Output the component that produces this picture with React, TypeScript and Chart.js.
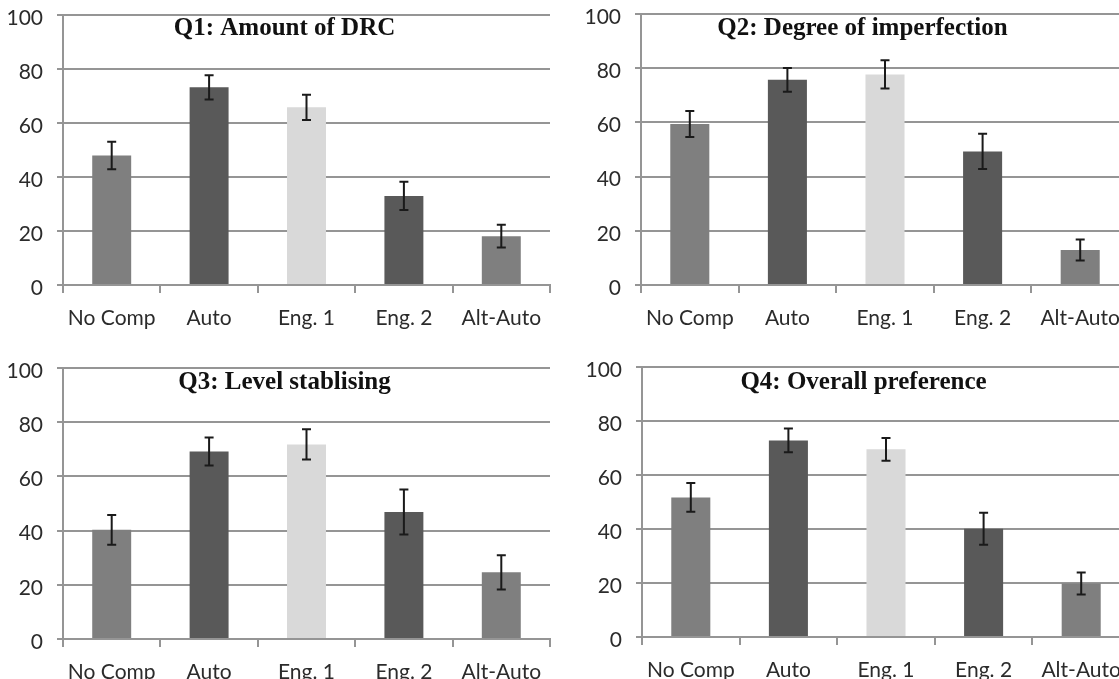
import React, { useEffect, useRef } from "react";
import { Chart, registerables } from "chart.js";

Chart.register(...registerables);

// Conditions compared in every question
const categories = ["No Comp", "Auto", "Eng. 1", "Eng. 2", "Alt-Auto"];

// Mean scores and error-bar half-lengths per question
const q1Means = [48, 73.2, 65.8, 33, 18.1];
const q1Errors = [5.1, 4.5, 4.7, 5.2, 4.2];

const q2Means = [59.4, 75.7, 77.7, 49.3, 12.9];
const q2Errors = [4.8, 4.4, 5.2, 6.5, 3.9];

const q3Means = [40.3, 69.2, 71.8, 46.9, 24.6];
const q3Errors = [5.5, 5.2, 5.6, 8.3, 6.3];

const q4Means = [51.7, 72.8, 69.5, 40.1, 19.8];
const q4Errors = [5.3, 4.4, 4.2, 5.9, 4.1];

// Value axis
const yMin = 0;
const yMax = 100;
const yStep = 20;

const barColors = ["#7f7f7f", "#595959", "#d9d9d9", "#595959", "#7f7f7f"];

const GRID = "#959595";
const TICK_FONT = { family: "Lato, 'Open Sans', sans-serif", size: 21 };

type Panel = {
  title: string;
  means: number[];
  errors: number[];
  box: { x: number; y: number; w: number; h: number };
  area: { l: number; t: number; r: number; b: number };
  titleDy: number;
};

const panels: Panel[] = [
  {
    title: "Q1: Amount of DRC",
    means: q1Means,
    errors: q1Errors,
    box: { x: 0, y: 0, w: 560, h: 335 },
    area: { l: 63, t: 15, r: 550, b: 285 },
    titleDy: 19.5,
  },
  {
    title: "Q2: Degree of imperfection",
    means: q2Means,
    errors: q2Errors,
    box: { x: 560, y: 0, w: 580, h: 335 },
    area: { l: 641, t: 14, r: 1129, b: 285 },
    titleDy: 20.5,
  },
  {
    title: "Q3: Level stablising",
    means: q3Means,
    errors: q3Errors,
    box: { x: 0, y: 335, w: 560, h: 360 },
    area: { l: 63, t: 368, r: 550, b: 639 },
    titleDy: 21,
  },
  {
    title: "Q4: Overall preference",
    means: q4Means,
    errors: q4Errors,
    box: { x: 560, y: 335, w: 580, h: 360 },
    area: { l: 642, t: 367, r: 1130, b: 637 },
    titleDy: 21.5,
  },
];

// Draws the vertical error bars with caps on top of each bar
const errorBarPlugin = {
  id: "errorBars",
  afterDatasetsDraw(chart: any) {
    const errs: number[] = chart.options.plugins.errorBars.errors;
    const meta = chart.getDatasetMeta(0);
    const ys = chart.scales.y;
    const ds = chart.data.datasets[0].data as number[];
    const ctx = chart.ctx;
    ctx.save();
    ctx.strokeStyle = "#1a1a1a";
    ctx.lineWidth = 2;
    meta.data.forEach((bar: any, i: number) => {
      const x = bar.x;
      const top = ys.getPixelForValue(ds[i] + errs[i]);
      const bot = ys.getPixelForValue(ds[i] - errs[i]);
      ctx.beginPath();
      ctx.moveTo(x, top);
      ctx.lineTo(x, bot);
      ctx.moveTo(x - 4.5, top);
      ctx.lineTo(x + 4.5, top);
      ctx.moveTo(x - 4.5, bot);
      ctx.lineTo(x + 4.5, bot);
      ctx.stroke();
    });
    ctx.restore();
  },
};

// Chart title drawn inside the plot, near the top
const innerTitlePlugin = {
  id: "innerTitle",
  afterDraw(chart: any) {
    const o = chart.options.plugins.innerTitle;
    const ctx = chart.ctx;
    const a = chart.chartArea;
    ctx.save();
    ctx.font = "bold 25px 'Liberation Serif', 'Times New Roman', serif";
    ctx.fillStyle = "#111111";
    ctx.textAlign = "center";
    ctx.textBaseline = "alphabetic";
    ctx.fillText(o.text, a.left + 221.5, a.top + o.dy);
    ctx.restore();
  },
};

function BarPanel({ panel }: { panel: Panel }) {
  const ref = useRef<HTMLCanvasElement | null>(null);

  useEffect(() => {
    if (!ref.current) return;
    const { box, area } = panel;
    const yAxisWidth = area.l - box.x;
    const xAxisHeight = box.y + box.h - area.b;
    const chart = new Chart(ref.current, {
      type: "bar",
      data: {
        labels: categories,
        datasets: [
          {
            data: panel.means,
            backgroundColor: barColors,
            borderWidth: 0,
            categoryPercentage: 1,
            barPercentage: 0.4,
          },
        ],
      },
      options: {
        animation: false,
        responsive: false,
        devicePixelRatio: 1,
        events: [],
        layout: {
          padding: {
            left: 0,
            top: area.t - box.y,
            right: box.x + box.w - area.r,
            bottom: 0,
          },
        },
        plugins: {
          legend: { display: false },
          tooltip: { enabled: false },
          title: { display: false },
          errorBars: { errors: panel.errors },
          innerTitle: { text: panel.title, dy: panel.titleDy },
        } as any,
        scales: {
          x: {
            afterFit: (s: any) => {
              s.height = xAxisHeight;
              s.paddingLeft = 0;
              s.paddingRight = 0;
            },
            grid: {
              display: true,
              drawOnChartArea: false,
              drawTicks: true,
              tickLength: 8,
              color: GRID,
              lineWidth: 2,
              offset: true,
            },
            border: { display: true, color: GRID, width: 2 },
            ticks: {
              font: TICK_FONT,
              color: "#2b2b2b",
              padding: 13,
              maxRotation: 0,
              minRotation: 0,
              autoSkip: false,
            },
          },
          y: {
            min: yMin,
            max: yMax,
            afterFit: (s: any) => {
              s.width = yAxisWidth;
              s.paddingTop = 0;
              s.paddingBottom = 0;
            },
            grid: {
              color: GRID,
              lineWidth: 2,
              tickLength: 6,
            },
            border: { display: true, color: GRID, width: 2 },
            ticks: {
              stepSize: yStep,
              font: TICK_FONT,
              color: "#2b2b2b",
              padding: 14,
              labelOffset: 3,
            },
          },
        },
      },
      plugins: [errorBarPlugin, innerTitlePlugin],
    } as any);
    return () => chart.destroy();
  }, [panel]);

  const { box } = panel;
  return (
    <canvas
      ref={ref}
      width={box.w}
      height={box.h}
      style={{
        position: "absolute",
        left: box.x,
        top: box.y,
        width: box.w,
        height: box.h,
      }}
    />
  );
}

export default function App() {
  return (
    <div
      style={{
        position: "absolute",
        left: 0,
        top: 0,
        width: 1119,
        height: 679,
        overflow: "hidden",
        background: "#ffffff",
      }}
    >
      {panels.map((p) => (
        <BarPanel key={p.title} panel={p} />
      ))}
    </div>
  );
}
